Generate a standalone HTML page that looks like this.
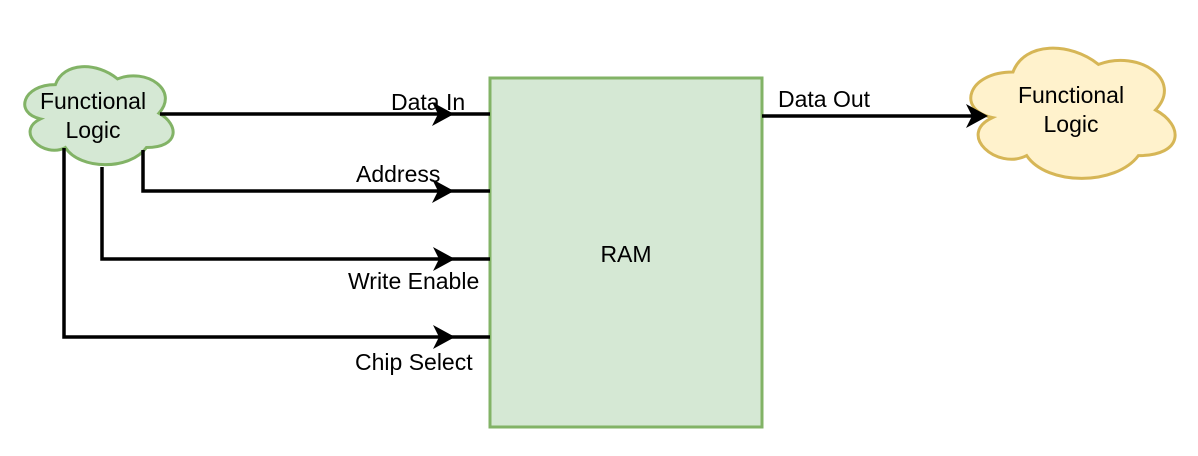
<!DOCTYPE html>
<html><head><meta charset="utf-8"><style>
html,body{margin:0;padding:0;background:#fff;}
svg{display:block}
text{font-family:"Liberation Sans",Arial,sans-serif;font-size:23px;fill:#000}
</style></head><body>
<svg width="1198" height="456" viewBox="0 0 1198 456" xmlns="http://www.w3.org/2000/svg">
<g transform="translate(14,56) scale(1.38,1.43)">
<path d="M30 20 C6 20 0 40 19.2 44 C0 52.8 21.6 72 37.2 64 C48 80 84 80 96 64 C120 64 120 48 105 40 C120 24 96 8 75 16 C60 4 36 4 30 20 Z" fill="#d5e8d4" stroke="#82b366" stroke-width="3" vector-effect="non-scaling-stroke"/>
</g>
<text x="93" y="109" text-anchor="middle">Functional</text>
<text x="93" y="138" text-anchor="middle">Logic</text>
<g transform="translate(956,34) scale(1.9,1.9)">
<path d="M30 20 C6 20 0 40 19.2 44 C0 52.8 21.6 72 37.2 64 C48 80 84 80 96 64 C120 64 120 48 105 40 C120 24 96 8 75 16 C60 4 36 4 30 20 Z" fill="#fff2cc" stroke="#d6b656" stroke-width="3" vector-effect="non-scaling-stroke"/>
</g>
<text x="1071" y="103" text-anchor="middle">Functional</text>
<text x="1071" y="132" text-anchor="middle">Logic</text>
<rect x="490" y="78" width="272" height="349" fill="#d5e8d4" stroke="#82b366" stroke-width="3"/>
<text x="626" y="262" text-anchor="middle">RAM</text>
<g stroke="#000" stroke-width="3.5" fill="none">
<path d="M160 114 H490"/>
<path d="M143 150 V191 H490"/>
<path d="M102 167 V259 H490"/>
<path d="M64 148 V337 H490"/>
<path d="M762 116 H982"/>
</g>
<g fill="#000">
<path d="M454 114 L432 102 L438 114 L432 126 Z"/>
<path d="M454 191 L432 179 L438 191 L432 203 Z"/>
<path d="M455 259 L433 247 L439 259 L433 271 Z"/>
<path d="M455 337 L433 325 L439 337 L433 349 Z"/>
<path d="M988 116 L966 104 L972 116 L966 128 Z"/>
</g>
<text x="391" y="110">Data In</text>
<text x="356" y="182">Address</text>
<text x="348" y="289">Write Enable</text>
<text x="355" y="370">Chip Select</text>
<text x="778" y="107">Data Out</text>
</svg>
</body></html>
